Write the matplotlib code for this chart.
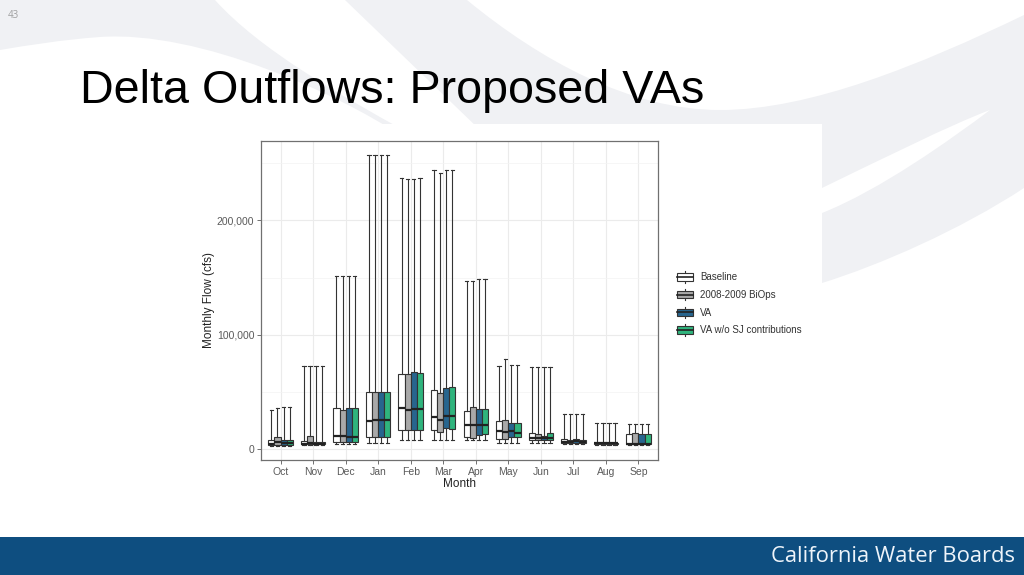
import matplotlib
matplotlib.use("Agg")
import matplotlib.pyplot as plt
from matplotlib.patches import Rectangle, PathPatch
from matplotlib.path import Path
from matplotlib.lines import Line2D
from matplotlib.legend_handler import HandlerBase
from matplotlib.ticker import FuncFormatter, MultipleLocator

# ---------------- data ----------------
months = ["Oct", "Nov", "Dec", "Jan", "Feb", "Mar", "Apr", "May", "Jun", "Jul", "Aug", "Sep"]
series_names = ["Baseline", "2008-2009 BiOps", "VA", "VA w/o SJ contributions"]
series_colors = ["#ffffff", "#a9a9a9", "#27658e", "#2fb47d"]

baseline_lo  = [3000, 3300, 4800, 5000, 7900, 7900, 7900, 5000, 5500, 4000, 3800, 3300]
baseline_q1  = [3500, 4000, 6400, 10800, 16600, 16600, 10200, 8700, 7900, 5000, 4300, 4000]
baseline_med = [4800, 4800, 11700, 24800, 36000, 27700, 21000, 15700, 9900, 6500, 4900, 4800]
baseline_q3  = [7500, 7000, 36000, 49500, 66000, 52000, 33000, 24500, 14300, 8500, 5700, 12800]
baseline_hi  = [34000, 72500, 151500, 257500, 237500, 244000, 147000, 73000, 71500, 30300, 23000, 21600]

biops_lo  = [3000, 3300, 4800, 5000, 7900, 7900, 7900, 5000, 5500, 4000, 3800, 3300]
biops_q1  = [3700, 4200, 6400, 10800, 16600, 15000, 9300, 8700, 7900, 5000, 4300, 4000]
biops_med = [5800, 5500, 11000, 25000, 34000, 25400, 21000, 14900, 9300, 6300, 4900, 4800]
biops_q3  = [10800, 11400, 34000, 49500, 65500, 48700, 37000, 25400, 12800, 8000, 5700, 13700]
biops_hi  = [35500, 72500, 151500, 257500, 236000, 241800, 147000, 79000, 71500, 30300, 23000, 21600]

va_lo  = [2800, 3300, 4800, 5000, 7900, 7900, 8200, 5000, 5500, 4000, 3800, 3300]
va_q1  = [3500, 4000, 6000, 10800, 16600, 18000, 12200, 10800, 7900, 5000, 4300, 4000]
va_med = [5300, 4800, 10800, 25600, 35000, 29000, 21000, 15700, 9300, 6800, 4900, 4600]
va_q3  = [7900, 6500, 36000, 50000, 67000, 53600, 35000, 22500, 11400, 8700, 5700, 12800]
va_hi  = [36500, 72500, 151500, 257500, 236000, 244000, 148500, 73500, 71500, 30300, 23000, 21600]

vasj_lo  = [2800, 3300, 4800, 5000, 7900, 7900, 8200, 5000, 5500, 4000, 3800, 3300]
vasj_q1  = [3500, 4000, 6000, 10800, 16600, 17500, 13000, 10500, 7900, 5000, 4300, 4000]
vasj_med = [5300, 4800, 10800, 25600, 35000, 29000, 21000, 14000, 9300, 6500, 4900, 4600]
vasj_q3  = [7900, 6500, 36000, 50000, 66800, 54500, 35000, 22500, 13700, 8000, 5700, 12800]
vasj_hi  = [36500, 72500, 151500, 257500, 237500, 244000, 148500, 73500, 71500, 30300, 23000, 21600]

series_stats = [
    (baseline_lo, baseline_q1, baseline_med, baseline_q3, baseline_hi),
    (biops_lo, biops_q1, biops_med, biops_q3, biops_hi),
    (va_lo, va_q1, va_med, va_q3, va_hi),
    (vasj_lo, vasj_q1, vasj_med, vasj_q3, vasj_hi),
]

y_ticks = [0, 100000, 200000]

# ---------------- figure / slide background ----------------
W, H = 1024, 575
fig = plt.figure(figsize=(W / 100, H / 100), dpi=100)
fig.patch.set_facecolor("white")

bg = fig.add_axes([0, 0, 1, 1], zorder=0)
bg.set_xlim(0, W)
bg.set_ylim(H, 0)
bg.axis("off")

SW = "#f0f1f4"
M, L, C, Z = Path.MOVETO, Path.LINETO, Path.CURVE4, Path.CLOSEPOLY

# left crescent swoosh
g1 = Path([(0, 0), (215, 0), (260, 50), (340, 95), (407, 132),
           (400, 135), (340, 95), (200, 30), (100, 37),
           (60, 40), (30, 45), (0, 50), (0, 0)],
          [M, L, C, C, C, L, C, C, C, C, C, C, Z])
bg.add_patch(PathPatch(g1, facecolor=SW, edgecolor="none"))

# big swoosh on the right
g2 = Path([(345, 0), (480, 130), (822, 130), (822, 283),
           (880, 265), (960, 230), (1024, 188),
           (1024, 15),
           (920, 65), (810, 110), (720, 110),
           (630, 110), (540, 60), (467, 0),
           (345, 0)],
          [M, L, L, L, C, C, C, L, C, C, C, C, C, C, Z])
bg.add_patch(PathPatch(g2, facecolor=SW, edgecolor="none"))

# white slit between right swooshes
slit = Path([(822, 188), (880, 160), (950, 125), (990, 110),
             (950, 140), (880, 190), (822, 213), (822, 188)],
            [M, C, C, C, C, C, C, Z])
bg.add_patch(PathPatch(slit, facecolor="white", edgecolor="none"))

# white image area of the chart
bg.add_patch(Rectangle((188, 124), 822 - 188, 410, facecolor="white", edgecolor="none"))

# bottom band
bg.add_patch(Rectangle((0, 537), W, H - 537, facecolor="#0e4e80", edgecolor="none"))
bg.text(1015, 556, "California Water Boards", ha="right", va="center",
        fontsize=15.8, color="#eef4fa", family="Open Sans")

# page number and title
bg.text(8, 16, "43", ha="left", va="center", fontsize=7, color="#a0a0a0", family="Open Sans")
bg.text(80, 103, "Delta Outflows: Proposed VAs", ha="left", va="baseline",
        fontsize=33.6, color="black", family="Liberation Sans")

# ---------------- chart ----------------
ax = fig.add_axes([261 / W, 1 - 460 / H, (658 - 261) / W, (460 - 141) / H], zorder=2)
ax.set_facecolor("white")

n = len(series_names)
group_w = 0.75
box_w = group_w / n
positions_base = list(range(1, len(months) + 1))

edge = "#333333"
for s_idx in range(n):
    lo, q1, med, q3, hi = series_stats[s_idx]
    stats = []
    for m in range(len(months)):
        stats.append(dict(whislo=lo[m], q1=q1[m], med=med[m], q3=q3[m], whishi=hi[m], fliers=[]))
    offs = -group_w / 2 + box_w * (s_idx + 0.5)
    pos = [p + offs for p in positions_base]
    ax.bxp(stats, positions=pos, widths=box_w, capwidths=box_w * 0.55,
           patch_artist=True, showfliers=False, manage_ticks=False,
           boxprops=dict(facecolor=series_colors[s_idx], edgecolor=edge, linewidth=0.8),
           medianprops=dict(color="#222222", linewidth=1.6),
           whiskerprops=dict(color=edge, linewidth=0.8),
           capprops=dict(color=edge, linewidth=0.8))

ax.set_xlim(0.4, len(months) + 0.6)
ax.set_ylim(-9600, 269500)
ax.set_xticks(positions_base)
ax.set_xticklabels(months)
ax.set_yticks(y_ticks)
ax.yaxis.set_major_formatter(FuncFormatter(lambda v, p: f"{v:,.0f}"))
ax.yaxis.set_minor_locator(MultipleLocator(50000))
ax.xaxis.set_minor_locator(MultipleLocator(0.5))
ax.tick_params(axis="x", which="minor", length=0)
ax.tick_params(axis="y", which="minor", length=0)

ax.grid(True, which="major", color="#ebebeb", linewidth=0.8)
ax.grid(True, which="minor", axis="y", color="#f3f3f3", linewidth=0.5)
ax.set_axisbelow(True)

for sp in ax.spines.values():
    sp.set_color("#707070")
    sp.set_linewidth(0.9)

ax.tick_params(axis="both", which="major", length=3, width=0.7, color="#707070",
               labelsize=7.5, labelcolor="#5a5a5a", pad=1.8)
for lab in ax.get_xticklabels() + ax.get_yticklabels():
    lab.set_family("Liberation Sans")

ax.set_xlabel("Month", fontsize=8.5, color="#222222", family="Liberation Sans", labelpad=1)
ax.set_ylabel("Monthly Flow (cfs)", fontsize=8.5, color="#222222", family="Liberation Sans", labelpad=1.5)


# ---------------- legend ----------------
class BoxKeyHandler(HandlerBase):
    def create_artists(self, legend, orig_handle, xdescent, ydescent, width, height, fontsize, trans):
        fc = orig_handle.get_facecolor()
        x0, y0 = -xdescent, -ydescent
        cx = x0 + width / 2
        arts = []
        arts.append(Line2D([cx, cx], [y0, y0 + height], color=edge, lw=0.8, transform=trans))
        arts.append(Rectangle((x0, y0 + height * 0.18), width, height * 0.64,
                              facecolor=fc, edgecolor=edge, lw=0.8, transform=trans))
        arts.append(Line2D([x0, x0 + width], [y0 + height / 2] * 2, color="#222222", lw=1.2,
                           transform=trans))
        return arts


handles = [Rectangle((0, 0), 1, 1, facecolor=c) for c in series_colors]
leg = fig.legend(handles, series_names, handler_map={Rectangle: BoxKeyHandler()},
                 loc="center left", bbox_to_anchor=(677 / W, 1 - 303.5 / H),
                 frameon=False, borderpad=0, borderaxespad=0,
                 handlelength=1.65, handleheight=1.45, handletextpad=0.7, labelspacing=0.62,
                 prop=dict(family="Liberation Sans", size=7.0))
for t in leg.get_texts():
    t.set_color("#333333")

fig.savefig("out.png", dpi=100, facecolor="white")
